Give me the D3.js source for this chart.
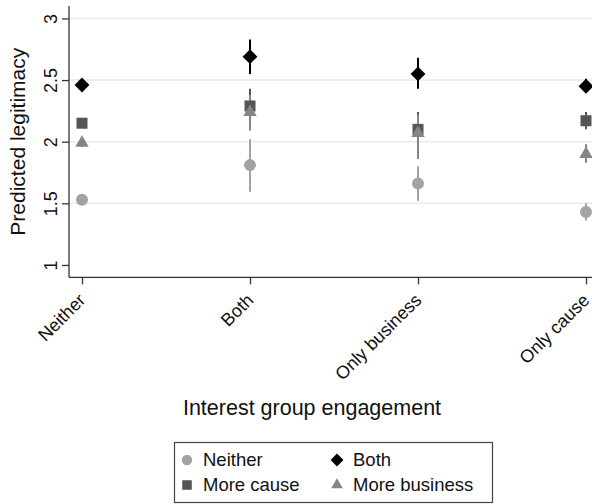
<!DOCTYPE html>
<html>
<head>
<meta charset="utf-8">
<script src="https://cdn.jsdelivr.net/npm/d3@7"></script>
<style>
  html, body { margin: 0; padding: 0; background: #fff; }
  svg { display: block; font-family: "Liberation Sans", Arial, Helvetica, sans-serif; }
</style>
</head>
<body>
<svg id="chart" width="592" height="504"></svg>
<script>
// Categories on the x axis
const categories = ["Neither", "Both", "Only business", "Only cause"];

// Series (legend order)
const seriesNames = ["Neither", "Both", "More cause", "More business"];

// Predicted legitimacy and 95% interval bounds, one entry per category
const neitherEst = [1.53, 1.81, 1.66, 1.43];
const neitherLo  = [1.50, 1.595, 1.52, 1.36];
const neitherHi  = [1.56, 2.02, 1.80, 1.50];

const bothEst = [2.46, 2.69, 2.55, 2.45];
const bothLo  = [2.43, 2.55, 2.43, 2.40];
const bothHi  = [2.49, 2.83, 2.68, 2.51];

const causeEst = [2.15, 2.29, 2.10, 2.17];
const causeLo  = [2.12, 2.15, 1.96, 2.10];
const causeHi  = [2.18, 2.43, 2.24, 2.24];

const businessEst = [1.99, 2.24, 2.07, 1.90];
const businessLo  = [1.96, 2.09, 1.86, 1.83];
const businessHi  = [2.02, 2.38, 2.22, 1.98];

const yTicks = [1, 1.5, 2, 2.5, 3];
const yTickLabels = ["1", "1.5", "2", "2.5", "3"];

// Styling per series
const seriesStyle = [
  { color: "#a3a3a3", symbol: d3.symbolCircle, size: 113, rotate: 0 },
  { color: "#000000", symbol: d3.symbolSquare, size: 110, rotate: 45 },
  { color: "#555555", symbol: d3.symbolSquare, size: 121, rotate: 0 },
  { color: "#858585", symbol: d3.symbolTriangle, size: 78, rotate: 0 }
];

const seriesData = [
  { est: neitherEst, lo: neitherLo, hi: neitherHi },
  { est: bothEst, lo: bothLo, hi: bothHi },
  { est: causeEst, lo: causeLo, hi: causeHi },
  { est: businessEst, lo: businessLo, hi: businessHi }
].map((s, i) => ({
  name: seriesNames[i],
  style: seriesStyle[i],
  points: categories.map((c, j) => ({ cat: c, est: s.est[j], lo: s.lo[j], hi: s.hi[j] }))
}));

const svg = d3.select("#chart");

const x = d3.scalePoint().domain(categories).range([82, 586]);
const y = d3.scaleLinear().domain([0.9, 3.1]).range([277.3, 6.1]);
const axisLeftX = 69;
const axisBottomY = y(0.9);

// Grid lines
svg.append("g")
  .selectAll("line")
  .data(yTicks.filter(t => t > 1))
  .join("line")
  .attr("x1", axisLeftX).attr("x2", 592)
  .attr("y1", d => y(d)).attr("y2", d => y(d))
  .attr("stroke", "#e9e9e9").attr("stroke-width", 1.5);

// Y axis
const yAxis = d3.axisLeft(y)
  .tickValues(yTicks)
  .tickFormat((d, i) => yTickLabels[i])
  .tickSize(7)
  .tickPadding(0);
const gy = svg.append("g").attr("transform", `translate(${axisLeftX},0)`).call(yAxis);
gy.select(".domain").attr("stroke", "#333").attr("stroke-width", 1.3).attr("d", `M0,${y(3.1)}V${axisBottomY}`);
gy.selectAll(".tick line").attr("stroke", "#333").attr("stroke-width", 1.3);
gy.selectAll(".tick text")
  .attr("font-size", 18).attr("fill", "#111")
  .attr("text-anchor", "middle")
  .attr("transform", "translate(-18,0) rotate(-90)")
  .attr("x", 0).attr("dy", "0.35em");

// X axis
const xAxis = d3.axisBottom(x).tickSize(7).tickPadding(0);
const gx = svg.append("g").attr("transform", `translate(0,${axisBottomY})`).call(xAxis);
gx.select(".domain").attr("stroke", "#333").attr("stroke-width", 1.3).attr("d", `M${axisLeftX},0H592`);
gx.selectAll(".tick line").attr("stroke", "#333").attr("stroke-width", 1.3);
gx.selectAll(".tick text")
  .attr("font-size", 18).attr("fill", "#111")
  .attr("text-anchor", "end")
  .attr("y", 0).attr("dy", 0)
  .attr("transform", "translate(4,24) rotate(-45)");

// Axis titles
svg.append("text")
  .attr("transform", `translate(25,${(y(1) + y(3)) / 2}) rotate(-90)`)
  .attr("text-anchor", "middle")
  .attr("font-size", 21)
  .attr("fill", "#111")
  .text("Predicted legitimacy");

svg.append("text")
  .attr("x", 312).attr("y", 415)
  .attr("text-anchor", "middle")
  .attr("font-size", 21.5)
  .attr("fill", "#111")
  .text("Interest group engagement");

// Confidence intervals
const ciLayer = svg.append("g");
seriesData.forEach(s => {
  ciLayer.append("g")
    .selectAll("line")
    .data(s.points)
    .join("line")
    .attr("x1", d => x(d.cat)).attr("x2", d => x(d.cat))
    .attr("y1", d => y(d.lo)).attr("y2", d => y(d.hi))
    .attr("stroke", s.style.color).attr("stroke-width", 2);
});

// Point estimates
seriesData.forEach(s => {
  const sym = d3.symbol(s.style.symbol, s.style.size);
  svg.append("g")
    .selectAll("path")
    .data(s.points)
    .join("path")
    .attr("d", sym)
    .attr("transform", d => `translate(${x(d.cat)},${y(d.est)}) rotate(${s.style.rotate})`)
    .attr("fill", s.style.color);
});

// Legend
const legend = svg.append("g");
legend.append("rect")
  .attr("x", 174.5).attr("y", 442.5).attr("width", 318).attr("height", 60)
  .attr("fill", "#fff").attr("stroke", "#444").attr("stroke-width", 1.2);

const legendPos = [
  { x: 187, y: 460 }, { x: 337, y: 460 },
  { x: 187, y: 485 }, { x: 337, y: 485 }
];
seriesData.forEach((s, i) => {
  const p = legendPos[i];
  legend.append("path")
    .attr("d", d3.symbol(s.style.symbol, s.style.size * 0.75)())
    .attr("transform", `translate(${p.x},${p.y}) rotate(${s.style.rotate})`)
    .attr("fill", s.style.color);
  legend.append("text")
    .attr("x", p.x + 16).attr("y", p.y)
    .attr("dy", "0.35em")
    .attr("font-size", 18.5)
    .attr("fill", "#111")
    .text(s.name);
});
</script>
</body>
</html>
